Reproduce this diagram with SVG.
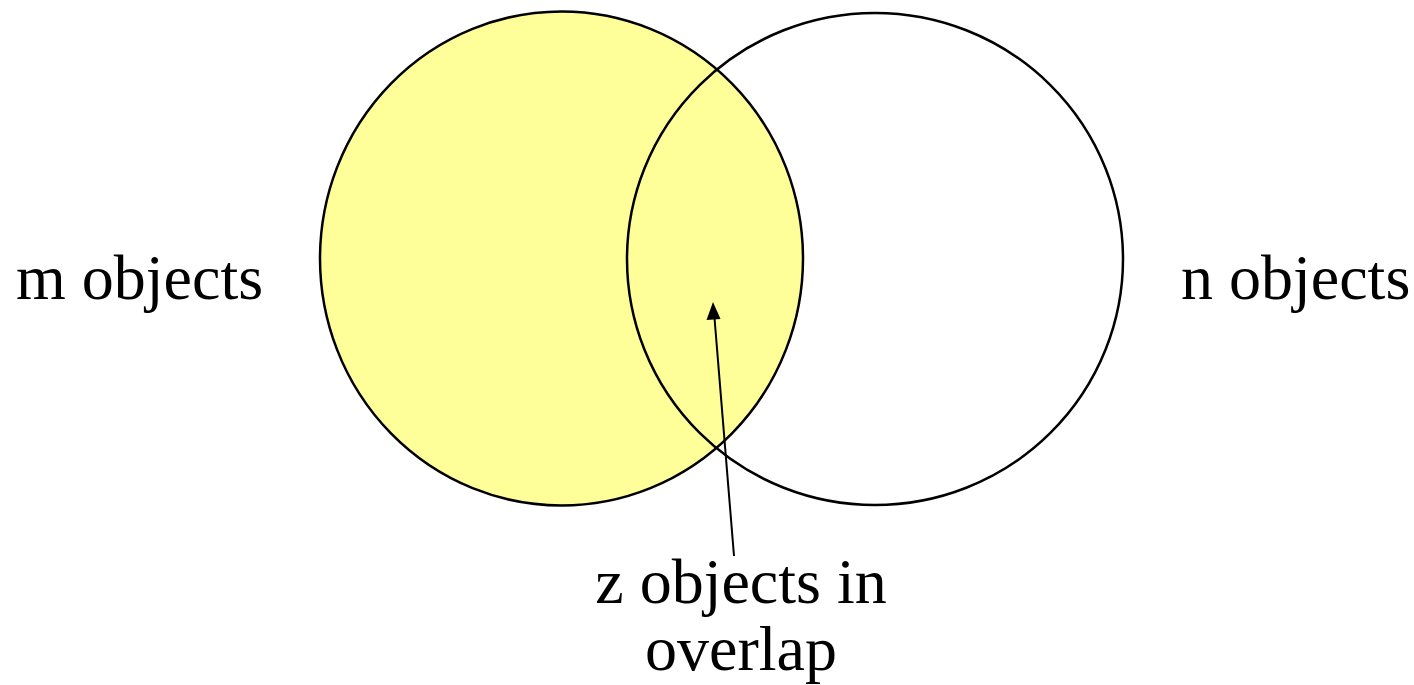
<svg xmlns="http://www.w3.org/2000/svg" width="1414" height="685" viewBox="0 0 1414 685">
<defs>
<style>
.lbl{font-family:"Liberation Serif","Times New Roman",serif;font-size:64px;fill:#000}
.ring{stroke:#000;stroke-width:2.5}
</style>
<marker id="ah" markerWidth="8" markerHeight="8" refX="7" refY="4" orient="auto" markerUnits="userSpaceOnUse" viewBox="0 0 8 8">
<path d="M0,0 L8,4 L0,8 Z" fill="#000"/>
</marker>
</defs>
<rect width="1414" height="685" fill="#fff"/>
<g id="setM">
<ellipse class="ring" cx="561.5" cy="258.5" rx="241.5" ry="247" fill="#FFFF99"/>
</g>
<g id="setN">
<ellipse class="ring" cx="875" cy="259" rx="248" ry="246" fill="none"/>
</g>
<g id="connectors">
<line x1="734" y1="556" x2="714.5" y2="318" stroke="#000" stroke-width="2"/>
<path d="M713,302 L720.5,319 L706.5,320 Z" fill="#000"/>
</g>
<g id="labelM"><text class="lbl" x="16" y="299">m objects</text></g>
<g id="labelN"><text class="lbl" x="1181" y="299">n objects</text></g>
<g id="labelZ"><text class="lbl" text-anchor="middle" x="741" y="603">z objects in</text><text class="lbl" text-anchor="middle" x="741" y="670">overlap</text></g>
</svg>
